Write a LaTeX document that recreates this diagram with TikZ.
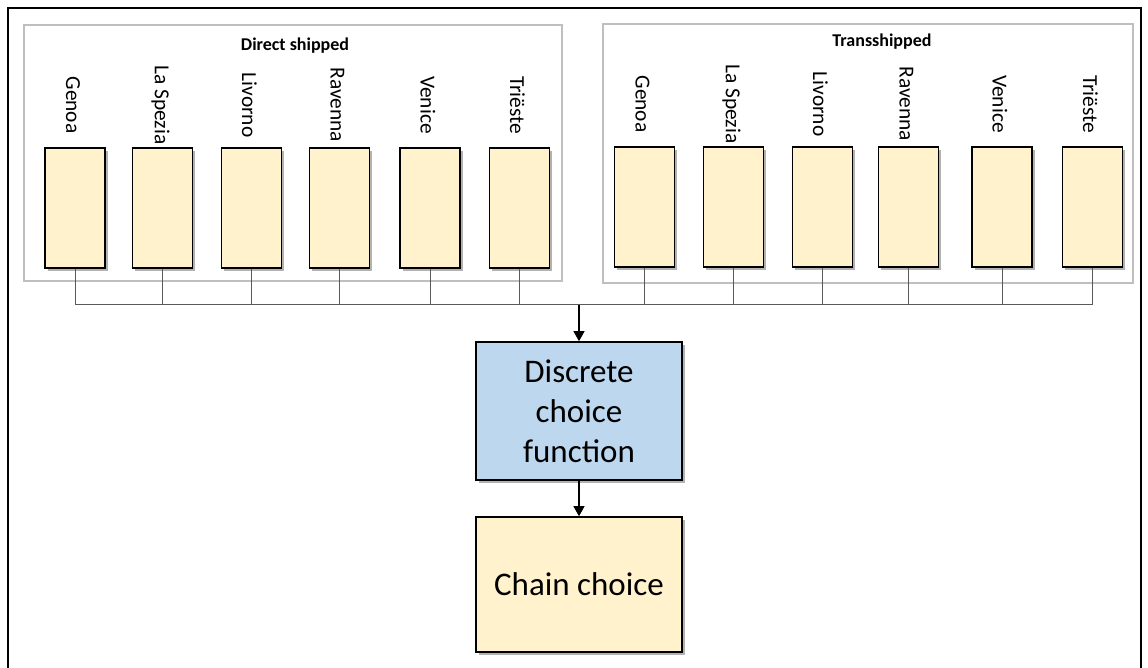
\documentclass[tikz,border=0pt]{standalone}
\usepackage{fontspec}
\setmainfont{Carlito}
\usetikzlibrary{arrows.meta}
\usetikzlibrary{shadows}

\definecolor{portfill}{HTML}{FFF2CC}
\definecolor{choicefill}{HTML}{BDD7EE}
\definecolor{groupline}{HTML}{BFBFBF}
\definecolor{busline}{HTML}{5A5A5A}

\tikzset{
    softshadow/.style = {drop shadow = {shadow xshift = 1.3pt, shadow yshift = -1.3pt,
        opacity = 0.3, fill = black}},
    portbox/.style = {draw, line width = 0.7pt, fill = portfill, inner sep = 0pt,
        minimum width = 30pt, minimum height = 60pt, softshadow},
    portlabel/.style = {rotate = -90, inner sep = 0pt,
        font = \fontsize{10.7}{12}\selectfont},
    groupbox/.style = {draw = groupline, line width = 0.8pt},
    grouptitle/.style = {inner sep = 0pt, font = \fontsize{9}{11}\selectfont\bfseries},
    bus/.style = {draw = busline, line width = 0.5pt},
    flow/.style = {line width = 0.6pt, -{Triangle[width = 5.5pt, length = 5pt]}},
    stagebox/.style = {draw, line width = 0.8pt, align = center, inner sep = 0pt,
        minimum width = 103pt, font = \fontsize{16.5}{20}\selectfont, softshadow}
}

\begin{document}
\begin{tikzpicture} [x = 0.5pt, y = -0.5pt]
    \useasboundingbox (0, 0) rectangle (1148, 668);
    \draw[line width = 0.9pt] (8, 680) -- (8, 8) -- (1141, 8) -- (1141, 680);

    \draw[groupbox] (24, 25) rectangle (562, 281);
    \node[grouptitle] (directtitle) at (295, 46) {Direct shipped};
    \draw[groupbox] (603, 24) rectangle (1133, 283);
    \node[grouptitle] (transtitle) at (882, 42) {Transshipped};

    \coordinate (hub) at (579, 305);

    \foreach \x/\p/\t in {75/genoa/Genoa, 162.5/spezia/La Spezia, 251.5/livorno/Livorno,
        339.5/ravenna/Ravenna, 430/venice/Venice, 519.5/trieste/Triëste} {
        \node[portbox] (d\p) at (\x, 208) {};
        \node[portlabel] (d\p-label) at (\x - 2, 105) {\t};
        \draw[bus] (d\p.south) |- (hub);
    }
    \foreach \x/\p/\t in {644.5/genoa/Genoa, 733.5/spezia/La Spezia, 822.5/livorno/Livorno,
        908.5/ravenna/Ravenna, 1002/venice/Venice, 1092.5/trieste/Triëste} {
        \node[portbox] (t\p) at (\x, 207) {};
        \node[portlabel] (t\p-label) at (\x - 2, 104) {\t};
        \draw[bus] (t\p.south) |- (hub);
    }

    \node[stagebox, fill = choicefill, minimum height = 69pt] (dcf) at (579, 411)
        {Discrete\\choice\\function};
    \node[stagebox, fill = portfill, minimum height = 67.5pt] (chain) at (579, 584.5)
        {Chain choice};

    \draw[flow] (hub) -- (dcf.north);
    \draw[flow] (dcf.south) -- (chain.north);
\end{tikzpicture}
\end{document}
